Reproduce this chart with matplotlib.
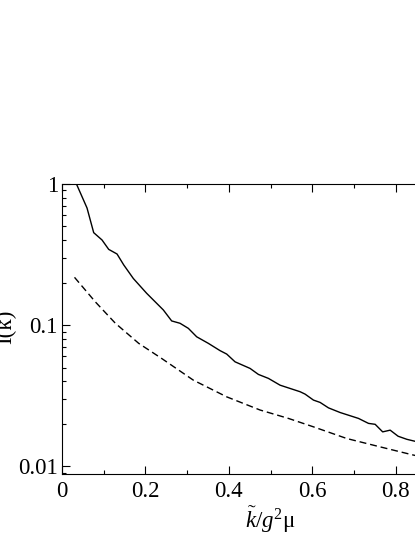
import matplotlib
matplotlib.use("Agg")
import matplotlib.pyplot as plt
from matplotlib.ticker import MultipleLocator, FixedLocator, FixedFormatter, LogLocator, NullFormatter

plt.rcParams['font.family'] = ['Liberation Serif', 'DejaVu Serif']
plt.rcParams['mathtext.fontset'] = 'custom'
plt.rcParams['mathtext.rm'] = 'Liberation Serif'
plt.rcParams['mathtext.it'] = 'Liberation Serif:italic'

# solid curve
k_solid = [0.034, 0.060, 0.076, 0.096, 0.112, 0.132, 0.148, 0.171, 0.203, 0.243,
           0.263, 0.283, 0.303, 0.323, 0.351, 0.379, 0.395, 0.415, 0.451, 0.471,
           0.495, 0.523, 0.571, 0.583, 0.603, 0.619, 0.639, 0.667, 0.711, 0.735,
           0.751, 0.769, 0.787, 0.806, 0.827, 0.847, 0.865]
I_solid = [1.01, 0.676, 0.452, 0.401, 0.344, 0.319, 0.267, 0.214, 0.168, 0.128,
           0.107, 0.103, 0.0948, 0.0826, 0.0742, 0.0659, 0.0623, 0.0549, 0.0493, 0.0447,
           0.0419, 0.0375, 0.0337, 0.0324, 0.0294, 0.0283, 0.0259, 0.0240, 0.0218, 0.0201,
           0.0198, 0.0175, 0.0180, 0.0163, 0.0155, 0.0150, 0.0146]

# dashed curve
k_dash = [0.030, 0.080, 0.128, 0.184, 0.239, 0.315, 0.395, 0.475, 0.543, 0.603,
          0.683, 0.763, 0.842, 0.865]
I_dash = [0.218, 0.146, 0.103, 0.0742, 0.0580, 0.0407, 0.0310, 0.0250, 0.0218, 0.0190,
          0.0157, 0.0137, 0.0120, 0.0116]

xticks = [0, 0.2, 0.4, 0.6, 0.8]
xticklabels = ['0', '0.2', '0.4', '0.6', '0.8']
yticks = [0.01, 0.1, 1]
yticklabels = ['0.01', '0.1', '1']

fig = plt.figure(figsize=(4.15, 5.37), dpi=100)
# the axes run past the right edge of the figure, as in the cropped original
ax = fig.add_axes([62 / 415, 63 / 537, 417 / 415, 290 / 537])

ax.plot(k_solid, I_solid, color='black', lw=1.0)
ax.plot(k_dash, I_dash, color='black', lw=1.0, linestyle=(0, (5, 2.8)))

ax.set_yscale('log')
ax.set_xlim(0, 1.0)
ax.set_ylim(0.0088, 1.0)

ax.xaxis.set_major_locator(FixedLocator(xticks))
ax.xaxis.set_major_formatter(FixedFormatter(xticklabels))
ax.xaxis.set_minor_locator(MultipleLocator(0.1))
ax.yaxis.set_major_locator(FixedLocator(yticks))
ax.yaxis.set_major_formatter(FixedFormatter(yticklabels))
ax.yaxis.set_minor_locator(LogLocator(base=10, subs=range(2, 10)))
ax.yaxis.set_minor_formatter(NullFormatter())

ax.tick_params(which='both', direction='in', top=True, right=True, labelsize=16.5, width=0.8)
ax.tick_params(which='major', length=5.5)
ax.tick_params(which='minor', length=3)
ax.tick_params(axis='x', pad=5)
ax.tick_params(axis='y', pad=3)
for s in ax.spines.values():
    s.set_linewidth(0.8)

ax.set_xlabel(r'$\tilde{k}/g^{2}\mathrm{\mu}$', fontsize=16.5, labelpad=2)
fig.text(6 / 415, 1 - 327 / 537, 'I(k)', rotation=90, ha='center', va='center', fontsize=16.5)

fig.savefig('out.png', dpi=100)
